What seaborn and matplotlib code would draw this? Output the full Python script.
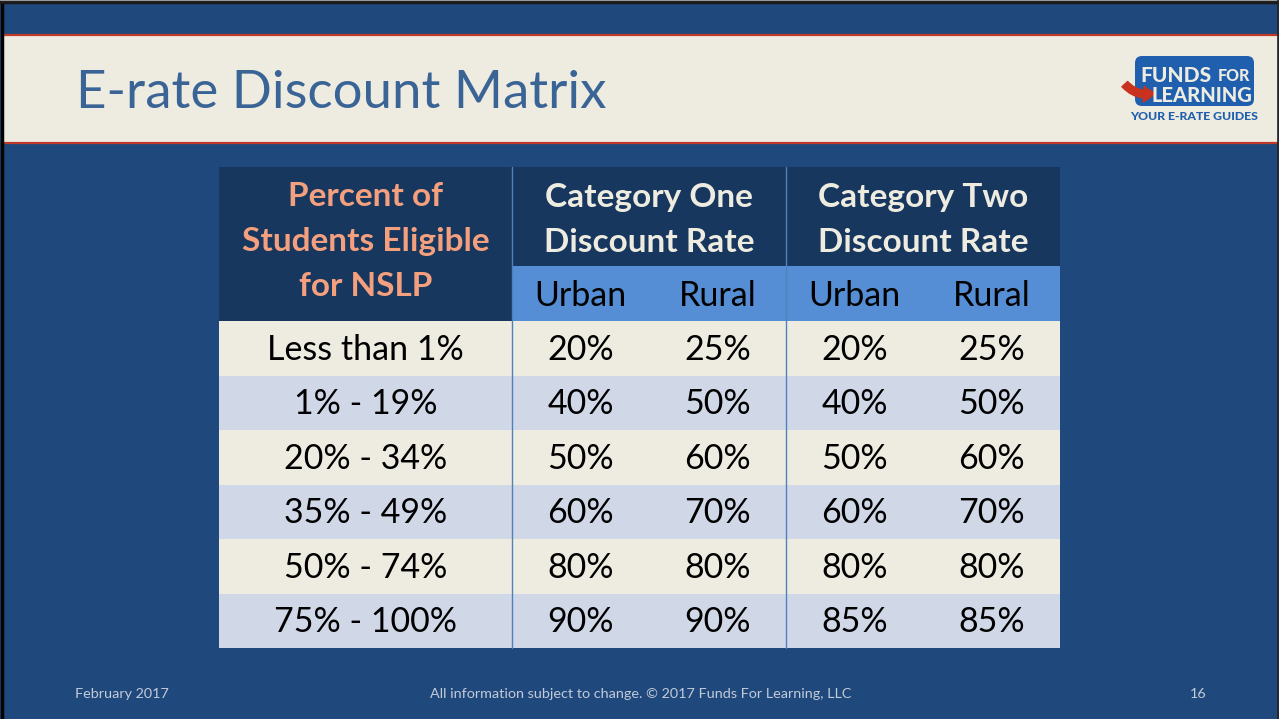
import numpy as np
import pandas as pd
import matplotlib
matplotlib.use("Agg")
import matplotlib.pyplot as plt
import seaborn as sns
from matplotlib.colors import ListedColormap
from matplotlib.patches import Rectangle, FancyBboxPatch, FancyArrowPatch

# ---------------- data ----------------
title = "E-rate Discount Matrix"
row_header = ["Percent of", "Students Eligible", "for NSLP"]
categories = [["Category One", "Discount Rate"], ["Category Two", "Discount Rate"]]
locales = ["Urban", "Rural"]
nslp_bands = ["Less than 1%", "1% - 19%", "20% - 34%", "35% - 49%", "50% - 74%", "75% - 100%"]
cat1_urban = [20, 40, 50, 60, 80, 90]
cat1_rural = [25, 50, 60, 70, 80, 90]
cat2_urban = [20, 40, 50, 60, 80, 85]
cat2_rural = [25, 50, 60, 70, 80, 85]
footer_left = "February 2017"
footer_center = "All information subject to change. \u00a9 2017 Funds For Learning, LLC"
footer_right = "16"

# ---------------- style ----------------
sns.set_theme(style="white")
plt.rcParams["font.family"] = ["Lato", "DejaVu Sans"]

BG = "#1F497D"
NAVY = "#17375E"
SUBHDR = "#558ED5"
CREAM = "#EEECE1"
LAVENDER = "#D0D8E8"
SALMON = "#F4A07E"
TITLE_C = "#3A6496"
RED = "#C0392B"
SEP = "#4F81BD"
FOOT_C = "#C3CAD8"

W, H = 1279, 719
fig = plt.figure(figsize=(W / 100, H / 100), dpi=100, facecolor=BG)


def fx(x):
    return x / W


def fy(y):
    return 1 - y / H


def fbox(x0, y0, x1, y1):
    return [fx(x0), fy(y1), (x1 - x0) / W, (y1 - y0) / H]


# overlay axis in pixel coordinates for decorations
deco = fig.add_axes([0, 0, 1, 1])
deco.set_xlim(0, W)
deco.set_ylim(H, 0)
deco.axis("off")
deco.set_zorder(0)

# title band
deco.add_patch(Rectangle((3, 35), W - 4, 108, facecolor=CREAM, edgecolor="none"))
deco.plot([3, W - 1], [35, 35], color=RED, lw=1.6)
deco.plot([3, W - 1], [143, 143], color=RED, lw=1.6)
deco.text(76, 93, title, color=TITLE_C, fontsize=38, va="center", ha="left")

# frame
deco.plot([1.5, 1.5], [0, H], color="black", lw=2.5)
deco.plot([0, W], [1.5, 1.5], color="#1a1a1a", lw=2.5)
deco.plot([0, W], [0.3, 0.3], color="#9a9a9a", lw=0.8)
deco.plot([W - 0.7, W - 0.7], [0, H], color="#222222", lw=1.2)

# logo
logo_blue = "#1F5FAE"
deco.add_patch(FancyBboxPatch((1135, 56), 119, 50, boxstyle="round,pad=0,rounding_size=7",
                              facecolor=logo_blue, edgecolor="none"))
deco.text(1140, 75, "FUNDS", color=CREAM, fontsize=15, fontweight="black", va="center", ha="left")
deco.text(1250, 76, "FOR", color=CREAM, fontsize=11.5, fontweight="black", va="center", ha="right")
deco.text(1252, 95, "LEARNING", color=CREAM, fontsize=14.5, fontweight="black", va="center", ha="right")
deco.add_patch(FancyArrowPatch((1123, 82), (1158, 92), connectionstyle="arc3,rad=0.35",
                               arrowstyle="simple,head_length=6,head_width=8,tail_width=4",
                               color="#C8321E", mutation_scale=1.4))
deco.text(1194, 117, "YOUR E-RATE GUIDES", color=logo_blue, fontsize=8.8, fontweight="black",
          va="center", ha="center")

# footer
FOOT_FS = 10.4
deco.text(75, 694, footer_left, color=FOOT_C, fontsize=FOOT_FS, va="center", ha="left")
deco.text(641, 694, footer_center, color=FOOT_C, fontsize=FOOT_FS, va="center", ha="center")
deco.text(1198, 694, footer_right, color=FOOT_C, fontsize=FOOT_FS, va="center", ha="center")

# ---------------- table layout ----------------
T_LEFT, T_TOP = 219, 167
LABEL_W, VAL_W = 293, 137
HDR1_H, HDR2_H, ROW_H = 99, 55, 54.5
n_rows = len(nslp_bands)
n_vals = 4
x_vals0 = T_LEFT + LABEL_W
T_RIGHT = x_vals0 + n_vals * VAL_W
body_top = T_TOP + HDR1_H + HDR2_H
T_BOTTOM = body_top + n_rows * ROW_H

# header
hdr = fig.add_axes(fbox(T_LEFT, T_TOP, T_RIGHT, body_top))
hdr.set_xlim(T_LEFT, T_RIGHT)
hdr.set_ylim(body_top, T_TOP)
hdr.axis("off")
hdr.add_patch(Rectangle((T_LEFT, T_TOP), T_RIGHT - T_LEFT, HDR1_H, facecolor=NAVY, edgecolor="none"))
hdr.add_patch(Rectangle((T_LEFT, T_TOP), LABEL_W, HDR1_H + HDR2_H, facecolor=NAVY, edgecolor="none"))
hdr.add_patch(Rectangle((x_vals0, T_TOP + HDR1_H), n_vals * VAL_W, HDR2_H, facecolor=SUBHDR, edgecolor="none"))

HDR_FS = 24
hdr_line_gap = 45
for i, line in enumerate(row_header):
    hdr.text(T_LEFT + LABEL_W / 2, 197 + i * hdr_line_gap, line, color=SALMON, fontsize=HDR_FS,
             fontweight="bold", ha="center", va="center")
for c, cat in enumerate(categories):
    cx = x_vals0 + (2 * c + 1) * VAL_W
    for i, line in enumerate(cat):
        hdr.text(cx, 198 + i * hdr_line_gap, line, color=CREAM, fontsize=HDR_FS,
                 fontweight="bold", ha="center", va="center")
    for k, loc in enumerate(locales):
        lx = x_vals0 + (2 * c + k + 0.5) * VAL_W
        hdr.text(lx, T_TOP + HDR1_H + HDR2_H / 2 + 2, loc, color="black", fontsize=24.5,
                 ha="center", va="center")

# body
parity = (np.arange(n_rows) % 2)
cmap = ListedColormap([CREAM, LAVENDER])
annot_kws = dict(color="black", fontsize=24.5)

ax_l = fig.add_axes(fbox(T_LEFT, body_top, x_vals0, T_BOTTOM))
sns.heatmap(parity[:, None], ax=ax_l, cmap=cmap, vmin=0, vmax=1, cbar=False,
            annot=np.array(nslp_bands)[:, None], fmt="", annot_kws=annot_kws,
            xticklabels=False, yticklabels=False)

vals = pd.DataFrame({"c1u": cat1_urban, "c1r": cat1_rural, "c2u": cat2_urban, "c2r": cat2_rural},
                    index=nslp_bands)
labels = vals.map(lambda v: f"{v}%").values
ax_v = fig.add_axes(fbox(x_vals0, body_top, T_RIGHT, T_BOTTOM))
sns.heatmap(np.tile(parity[:, None], (1, n_vals)), ax=ax_v, cmap=cmap, vmin=0, vmax=1, cbar=False,
            annot=labels, fmt="", annot_kws=annot_kws, xticklabels=False, yticklabels=False)

# nudge annotations down slightly to match the reference baseline
for a in list(ax_l.texts) + list(ax_v.texts):
    x, y = a.get_position()
    a.set_position((x, y + 0.03))

# separators between categories
sep_ax = fig.add_axes([0, 0, 1, 1])
sep_ax.set_xlim(0, W)
sep_ax.set_ylim(H, 0)
sep_ax.axis("off")
for c in range(len(categories)):
    xs = x_vals0 + 2 * c * VAL_W
    sep_ax.plot([xs, xs], [T_TOP, T_BOTTOM], color=SEP, lw=1.0)

fig.savefig("out.png", dpi=100, facecolor=BG)
